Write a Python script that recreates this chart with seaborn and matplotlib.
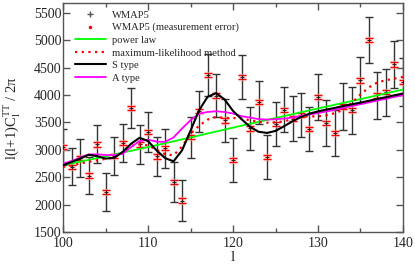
import matplotlib
matplotlib.use("Agg")
import numpy as np
import pandas as pd
import seaborn as sns
import matplotlib.pyplot as plt
from matplotlib.lines import Line2D
from matplotlib.ticker import MultipleLocator

# ---- data ----
ell = list(range(100, 141))

wmap5 = [3050, 2690, 2850, 2530, 3100, 2230, 2890, 3120, 3765, 3100,
         3326, 2880, 3030, 2413, 2075, 3230, 3705, 4365, 3990, 3535,
         2815, 4328, 3392, 3868, 2870, 3475, 3728, 3570, 3631, 3380,
         3966, 3490, 3310, 3790, 3722, 4268, 5000, 3993, 4050, 4557, 4240]

wmap5_err = [335, 340, 340, 330, 345, 350, 350, 350, 360, 360,
             365, 350, 355, 365, 380, 375, 375, 375, 390, 385,
             395, 400, 390, 395, 395, 405, 410, 410, 405, 410,
             415, 415, 420, 420, 425, 420, 425, 430, 430, 435, 435]

meas_err = 40

ell_pl = [100, 105, 110, 115, 120, 125, 130, 135, 140]
power_law = [2720, 2880, 3050, 3225, 3405, 3580, 3755, 3925, 4100]

ml_method = [2690, 2710, 2750, 2780, 2810, 2835, 2860, 2950, 3070, 3100,
             3080, 3000, 2920, 2900, 3060, 3290, 3440, 3550, 3600, 3580,
             3580, 3570, 3540, 3510, 3495, 3500, 3520, 3560, 3610, 3610,
             3610, 3630, 3670, 3730, 3860, 4010, 4140, 4230, 4270, 4300, 4330]

s_type = [2718, 2778, 2840, 2910, 2885, 2840, 2855, 2960, 3110, 3220,
          3160, 2990, 2850, 2790, 2990, 3350, 3720, 3965, 4035, 3920,
          3710, 3560, 3420, 3330, 3308, 3345, 3430, 3520, 3600, 3660,
          3700, 3735, 3765, 3800, 3830, 3862, 3895, 3930, 3960, 3995, 4027]

a_type = [2748, 2797, 2858, 2915, 2918, 2905, 2905, 2925, 3050, 3160,
          3185, 3150, 3145, 3225, 3390, 3540, 3660, 3690, 3704, 3690,
          3662, 3613, 3589, 3560, 3552, 3558, 3570, 3589, 3618, 3645,
          3670, 3700, 3730, 3765, 3800, 3832, 3865, 3900, 3930, 3965, 3996]

df = pd.DataFrame({"l": ell, "cl": wmap5, "err": wmap5_err,
                   "ml": ml_method, "s": s_type, "a": a_type})
df_pl = pd.DataFrame({"l": ell_pl, "cl": power_law})

# ---- style ----
sns.set_style("ticks")
plt.rcParams["font.family"] = ["Liberation Serif", "DejaVu Serif"]
plt.rcParams["mathtext.fontset"] = "custom"
plt.rcParams["mathtext.rm"] = "Liberation Serif"

fig = plt.figure(figsize=(4.15, 2.64), dpi=100)
ax = fig.add_axes([0.152, 0.121, 0.819, 0.868])

# error bars (WMAP5)
ax.errorbar(df["l"], df["cl"], yerr=df["err"], fmt="none", ecolor="#333333",
            elinewidth=1, capsize=3, capthick=1, zorder=2)
# measurement error (small red bars)
ax.errorbar(df["l"], df["cl"], yerr=meas_err, fmt="none", ecolor="#ff9999",
            elinewidth=2.5, capsize=3.2, capthick=2.5, alpha=0.6, zorder=3)
ax.errorbar(df["l"], df["cl"], yerr=meas_err, fmt="none", ecolor="red",
            elinewidth=0.8, capsize=2.8, capthick=0.8, zorder=3)
sns.scatterplot(data=df, x="l", y="cl", marker="+", color="#222222", s=12,
                linewidth=0.7, ax=ax, zorder=4)

# curves
sns.lineplot(data=df_pl, x="l", y="cl", color="#00ff00", lw=1.3, ax=ax, zorder=5)
sns.lineplot(data=df, x="l", y="ml", color="red", lw=1.6, linestyle=(0, (1, 2)),
             ax=ax, zorder=5)
sns.lineplot(data=df, x="l", y="s", color="black", lw=1.5, ax=ax, zorder=6)
sns.lineplot(data=df, x="l", y="a", color="#ff00ff", lw=1.3, ax=ax, zorder=5)

# axes
ax.set_xlim(100, 140)
ax.set_ylim(1500, 5680)
ax.set_yticks(range(1500, 5501, 500))
ax.set_xticks([100, 110, 120, 130, 140])
ax.xaxis.set_minor_locator(MultipleLocator(5))
ax.tick_params(which="major", direction="in", top=True, right=True,
               length=5, width=1, labelsize=10, color="#555555")
ax.tick_params(axis="y", pad=1)
ax.tick_params(axis="x", pad=3.5)
ax.tick_params(which="minor", direction="in", top=True, length=3, width=1,
               color="#555555")
for sp in ax.spines.values():
    sp.set_color("#555555")
    sp.set_linewidth(1)

ax.set_xlabel("l", fontsize=11, labelpad=1)
ax.set_ylabel(r"l(l+1)C$_\mathregular{l}^\mathregular{TT}$ / 2π", fontsize=10.5)
ax.yaxis.set_label_coords(-0.118, 0.5)

handles = [
    Line2D([], [], marker="+", color="#555555", ls="none", markersize=5),
    Line2D([], [], marker=".", color="red", ls="none", markersize=3),
    Line2D([], [], color="#00ff00", lw=1.3),
    Line2D([], [], color="red", lw=1.6, ls=(0, (1, 2))),
    Line2D([], [], color="black", lw=1.5),
    Line2D([], [], color="#ff00ff", lw=1.3),
]
labels = ["WMAP5", "WMAP5 (measurement error)", "power law",
          "maximum-likelihood method", "S type", "A type"]
ax.legend(handles, labels, loc="upper left", bbox_to_anchor=(0.012, 1.0),
          frameon=False, fontsize=7.6, handlelength=3.0, handletextpad=0.55,
          labelspacing=0.3, borderaxespad=0.3)

fig.savefig("out.png", dpi=100)
